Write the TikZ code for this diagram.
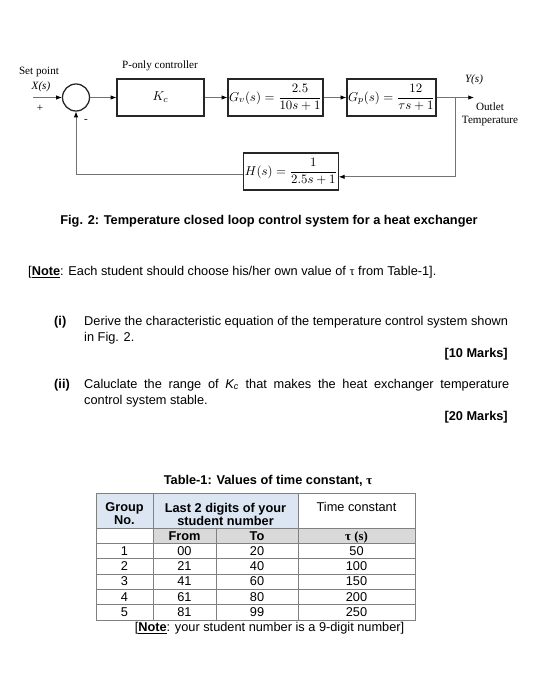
\documentclass[tikz,border=0pt]{standalone}
\usepackage{fontspec}
\setmainfont{Liberation Sans}
\newfontfamily\tnr{Liberation Serif}
\usepackage{amsmath}
\usetikzlibrary{arrows.meta,calc,positioning}

\definecolor{hdrblue}{HTML}{DCE6F2}
\definecolor{hdrgrey}{HTML}{D9D9D9}

\begin{document}
\begin{tikzpicture}[
  x=0.03cm, y=-0.03cm,
  font=\fontsize{10.9}{12.5}\selectfont,
  blk/.style={draw=black!85, line width=1.1pt, minimum width=2.61cm, minimum height=1.11cm, inner sep=1pt},
  sumj/.style={circle, draw=black!85, line width=1.1pt, minimum size=0.81cm, inner sep=0pt},
  conn/.style={-{Latex[length=1.7mm,width=1.3mm,color=black]}, line width=0.6pt, draw=black!55},
  lbl/.style={font=\tnr\fontsize{9.5}{11}\selectfont, inner sep=1pt},
  txt/.style={anchor=base west, inner sep=0pt},
  tline/.style={draw=black!50, line width=0.5pt},
  cell/.style={anchor=base, inner sep=0pt}
]
\useasboundingbox (0,0) rectangle (538,700);

% Block diagram.
\node[sumj] (sum) at (76,97.5) {};
\node[blk] (kc) at (160.5,97.5) {$K_c$};
\node[blk] (gv) at (275.5,97.5) {$G_v(s)=\dfrac{2.5}{10s+1}$};
\node[blk] (gp) at (391.5,97.5) {$G_p(s)=\dfrac{12}{\tau s+1}$};
\node[blk, minimum width=2.58cm] (hs) at (291,171.5) {$H(s)=\dfrac{1}{2.5s+1}$};

\coordinate (xin) at (33,97.5);
\coordinate (yout) at (474,97.5);
\coordinate (br) at (455,97.5);

\draw[conn] (xin) -- (sum);
\draw[conn] (sum) -- (kc);
\draw[conn] (kc) -- (gv);
\draw[conn] (gv) -- (gp);
\draw[conn] (gp) -- (yout);
\draw[conn] (br) |- ([yshift=-0.16cm]hs.east);
\draw[conn] ([yshift=-0.1cm]hs.west) -| (sum);

% Diagram labels.
\node[lbl] (spt) at (39,72) {Set point};
\node[lbl] (xs) at (41,87) {\itshape X(s)};
\node[lbl] (plus) at (40,108) {+};
\node[lbl] (minus) at (86,121) {-};
\node[lbl] (ponly) at (160,66) {P-only controller};
\node[lbl] (ys) at (474,80) {\itshape Y(s)};
\node[lbl, align=center] (outl) at (490,114) {Outlet\\Temperature};

% Caption and questions.
\node (cap) at (269,221) {\bfseries Fig. 2: Temperature closed loop control system for a heat exchanger};
\node[txt] (note) at (28,275) {[\underline{\textbf{Note}}: Each student should choose his/her own value of {\tnr τ} from Table-1].};

\node[txt] (qi) at (54,325) {\textbf{(i)}};
\node[txt] (qia) at (84,325) {Derive the characteristic equation of the temperature control system shown};
\node[txt] (qib) at (84,341) {in Fig. 2.};
\node[anchor=base east, inner sep=0pt] (mi) at (508,357) {\textbf{[10 Marks]}};

\node[txt] (qii) at (54,388) {\textbf{(ii)}};
\node[txt] (qiia) at (84,388) {\makebox[12.75cm][s]{Caluclate the range of \textit{K\textsubscript{c}} that makes the heat exchanger temperature}};
\node[txt] (qiib) at (84,404) {control system stable.};
\node[anchor=base east, inner sep=0pt] (mii) at (508,420) {\textbf{[20 Marks]}};

% Table-1.
\node (tcap) at (268,481) {\bfseries Table-1: Values of time constant, {\tnr τ}};

\def\xa{96}
\def\xb{153}
\def\xc{216}
\def\xd{298}
\def\xe{415}
\def\ya{493}
\def\yb{528}
\def\yc{543}
\def\yf{620}

\fill[hdrblue] (\xa,\ya) rectangle (\xd,\yb);
\fill[hdrgrey] (\xb,\yb) rectangle (\xe,\yc);
\draw[tline] (\xa,\ya) rectangle (\xe,\yf);
\foreach \y in {\yb,\yc,558.4,573.8,589.2,604.6}
  \draw[tline] (\xa,\y) -- (\xe,\y);
\draw[tline] (\xb,\ya) -- (\xb,\yf);
\draw[tline] (\xd,\ya) -- (\xd,\yf);
\draw[tline] (\xc,\yb) -- (\xc,\yf);

\node[align=center, inner sep=0pt] (hgrp) at (124.5,514) {\bfseries Group\\[-1.5pt]\bfseries No.};
\node[align=center, inner sep=0pt] (hdig) at (225.5,514) {\bfseries Last 2 digits of your\\[-1.5pt]\bfseries student number};
\node[cell] (htc) at (356.5,511) {Time constant};
\node[cell] (hfrom) at (184.5,540) {\bfseries From};
\node[cell] (hto) at (257,540) {\bfseries To};
\node[cell] (htau) at (356.5,540) {\tnr\bfseries τ (s)};

\foreach \g/\f/\t/\v [count=\i] in {1/00/20/50, 2/21/40/100, 3/41/60/150, 4/61/80/200, 5/81/99/250} {
  \node[cell] (g\i) at (124.5,{543+15.4*\i-3.3}) {\g};
  \node[cell] (f\i) at (184.5,{543+15.4*\i-3.3}) {\f};
  \node[cell] (t\i) at (257,{543+15.4*\i-3.3}) {\t};
  \node[cell] (v\i) at (356.5,{543+15.4*\i-3.3}) {\v};
}

\node (tnote) at (269.5,628) {[\underline{\textbf{Note}}: your student number is a 9-digit number]};

\end{tikzpicture}
\end{document}
